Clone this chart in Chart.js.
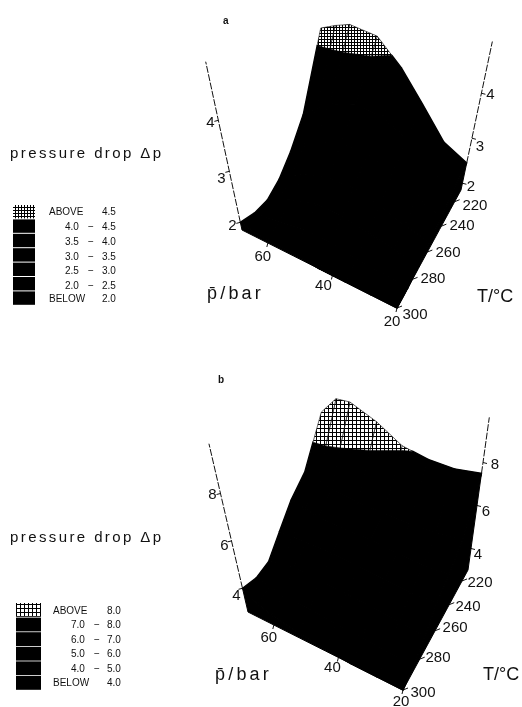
<!DOCTYPE html>
<html><head><meta charset="utf-8">
<style>html,body{margin:0;padding:0;background:#fff}canvas{display:block}</style>
<script src="https://cdn.jsdelivr.net/npm/chart.js@4/dist/chart.umd.min.js"></script>
</head><body><canvas id="c" width="522" height="707"></canvas>
<script>
// ---- data ----
const temperatures = [210,225,240,255,270,285,300];
const pressures    = [68,64,60,52,44,36,28,20];
const surfaceA = [
 [4.98,5.12,5.2,4.95,4.2,3.4,2.71,2.45],
 [2.61,2.9,3.2,3.4,3.3,3.0,2.5,2.3],
 [2.04,2.3,2.6,2.8,2.8,2.6,2.3,2.1],
 [1.78,2.0,2.2,2.4,2.4,2.3,2.1,2.0],
 [1.72,1.85,2.0,2.2,2.2,2.1,2.0,1.9],
 [1.83,1.85,1.9,2.0,2.0,1.95,1.9,1.85],
 [2.0,1.95,1.9,1.9,1.85,1.85,1.85,1.85]];
const surfaceB = [
 [9.71,10.7,10.52,9.4,8.2,7.7,7.47,7.5],
 [6.3,6.0,5.8,5.5,5.3,5.2,5.2,5.3],
 [5.4,5.2,5.0,4.9,4.8,4.7,4.6,4.6],
 [4.45,4.5,4.5,4.5,4.4,4.3,4.2,4.2],
 [3.75,3.9,4.0,4.0,3.9,3.8,3.7,3.6],
 [3.75,3.6,3.5,3.5,3.4,3.3,3.2,3.2],
 [4.0,3.6,3.4,3.2,3.1,3.0,3.0,3.0]];
const tTicks = [300,280,260,240,220];
const pTicks = [60,40,20];
const zTicksA = [2,3,4];
const zTicksB = [4,6,8];
const hatchLevelA = 4.5, hatchLevelB = 8.0;
const legendRowsA = [["ABOVE","","4.5"],["4.0","−","4.5"],["3.5","−","4.0"],["3.0","−","3.5"],["2.5","−","3.0"],["2.0","−","2.5"],["BELOW","","2.0"]];
const legendRowsB = [["ABOVE","","8.0"],["7.0","−","8.0"],["6.0","−","7.0"],["5.0","−","6.0"],["4.0","−","5.0"],["BELOW","","4.0"]];
const titleText = "pressure drop Δp", pLabel = "p\u0304/bar", tLabel = "T/°C";

// ---- projection / layout of each panel ----
const panelA = {
  surface:surfaceA, level:hatchLevelA, z0:1.85, zTop:5.15, zTicks:zTicksA, zRightStart:2.45, zLeftStart:2.0, warp:.12,
  A:[397,308], L:[242,230], R:[461,190], K:[316,122],
  zA:[-1,-48], zL:[-11,-51], zR:[9.5,-45], zK:[1.5,-30],
  tOff:[[18,7],[20.4,0],[20.7,1],[20.6,0],[20.3,4]], pOff:[[-5,14],[-9,10.5],[-5,14]],
  zLeftOff:[[-8,4],[-8,8],[-8,3]], zRightOff:[[8.6,4],[8,9],[9,2]],
  tag:"a", tagPos:[223,24], titleY:158, pLabelPos:[207,299], tLabelPos:[477,302],
  sw:{x:13,w:22,y:205,h:13.4,gap:1}, rowsY:[212,227,242,257,271,286,299], rows:legendRowsA,
  colX:{word:49,low:65,dash:88,hi:102}, hatchPeriod:3
};
const panelB = {
  surface:surfaceB, level:hatchLevelB, z0:3, zTop:10.1, zTicks:zTicksB, zRightStart:7.5, zLeftStart:4.0, warp:.2,
  A:[403,690], L:[248,612], R:[468,570], K:[318,506],
  zA:[-1,-23], zL:[-5.5,-23.7], zR:[3,-21.5], zK:[.5,-14],
  tOff:[[20,3],[18.3,-1],[20,-3],[18.8,2.3],[17.9,2.1]], pOff:[[-5,13],[-6,10.5],[-2,12]],
  zLeftOff:[[-6,8],[-7,5],[-8,1]], zRightOff:[[7,6.5],[9,6.5],[12,2.5]],
  tag:"b", tagPos:[218,383], titleY:542, pLabelPos:[215,680], tLabelPos:[483,680],
  sw:{x:16,w:25,y:603,h:13.8,gap:.8}, rowsY:[611,625,640,654,669,683], rows:legendRowsB,
  colX:{word:53,low:71,dash:94,hi:107}, hatchPeriod:4
};
const lerp=(a,b,t)=>a+(b-a)*t;
const bil=(P,f,v,a,l,r,k,i)=>lerp(lerp(P[a][i],P[l][i],v),lerp(P[r][i],P[k][i],v),f);
function project(P,T,p,z,fOverride){
  const f = fOverride!==undefined?fOverride:(300-T)/90, v=(p-20)/48, d=z-P.z0;
  return { x: bil(P,f,v,'A','L','R','K',0)+d*bil(P,f,v,'zA','zL','zR','zK',0),
           y: bil(P,f,v,'A','L','R','K',1)+d*bil(P,f,v,'zA','zL','zR','zK',1), z };
}
function clip(poly,level,keepAbove){
  const out=[];
  for(let i=0;i<poly.length;i++){
    const a=poly[i], b=poly[(i+1)%poly.length];
    const ia=keepAbove?a.z>=level:a.z<level, ib=keepAbove?b.z>=level:b.z<level;
    if(ia) out.push(a);
    if(ia!==ib){const t=(level-a.z)/(b.z-a.z);out.push({x:lerp(a.x,b.x,t),y:lerp(a.y,b.y,t),z:level});}
  }
  return out;
}
function makePattern(period){
  const c=document.createElement('canvas');c.width=c.height=period;
  const x=c.getContext('2d');x.fillStyle='#000';x.fillRect(0,0,period,period);
  x.fillStyle='#fff';x.fillRect(1,1,period-1,period-1);
  return x.createPattern(c,'repeat');
}
const poly=(pts,fill,w)=>({data:[...pts,pts[0]].map(q=>({x:q.x,y:q.y})),showLine:true,fill:'shape',
  backgroundColor:fill,borderColor:'#000',borderWidth:w,pointRadius:0,tension:0});
const stroke=(pts,w,dash)=>({data:pts.map(q=>({x:q.x,y:q.y})),showLine:true,fill:false,
  borderColor:'#111',borderWidth:w,borderDash:dash||[],pointRadius:0,tension:0});
function buildDatasets(P){
  const ds=[], hatch=makePattern(P.hatchPeriod), S=P.surface, nT=temperatures.length, nP=pressures.length;
  const last=nT-1, end=nP-1;
  // axes
  ds.push(stroke([project(P,300,68,P.zLeftStart),project(P,300,68,P.zTop)],1,[7,1.5]));
  ds.push(stroke([project(P,210,20,P.zRightStart),project(P,210,20,P.zTop)],1,[7,1.5]));
  // skirts: front and side
  const front=pressures.map((p,j)=>project(P,300,p,S[last][j]));
  const frontB=pressures.map(p=>project(P,300,p,P.z0)).reverse();
  ds.push(poly([...front,...frontB],'#000',1));
  const side=temperatures.map((T,i)=>project(P,T,20,S[i][end]));
  const sideB=temperatures.map(T=>project(P,T,20,P.z0)).reverse();
  ds.push(poly([...side,...sideB],'#000',1));
  // surface cells: hatched part first, so black cells sit cleanly over its lower edge
  const hiCells=[], loCells=[];
  for(let i=0;i<nT-1;i++)for(let j=0;j<nP-1;j++){
    const q=[project(P,temperatures[i],pressures[j],S[i][j]),project(P,temperatures[i],pressures[j+1],S[i][j+1]),
             project(P,temperatures[i+1],pressures[j+1],S[i+1][j+1]),project(P,temperatures[i+1],pressures[j],S[i+1][j])];
    const lo=clip(q,P.level,false), hi=clip(q,P.level,true);
    if(lo.length>2) loCells.push(poly(lo,'#000',1.4));
    if(hi.length>2) hiCells.push(poly(hi,hatch,.6));
  }
  ds.push(...hiCells,...loCells);
  // tick marks
  tTicks.forEach(T=>{const x=(300-T)/90,q=project(P,T,20,P.z0,x+P.warp*x*(1-x));ds.push(stroke([q,{x:q.x+5,y:q.y-2}],1));});
  pTicks.forEach(p=>{const q=project(P,300,p,P.z0);ds.push(stroke([q,{x:q.x-1,y:q.y+4}],1));});
  P.zTicks.forEach(z=>{const a=project(P,300,68,z),b=project(P,210,20,z);
    ds.push(stroke([a,{x:a.x-4,y:a.y+1}],1));ds.push(stroke([b,{x:b.x+4,y:b.y+1}],1));});
  return ds;
}
function drawPanelText(chart,P){
  const g=chart.ctx, X=v=>chart.scales.x.getPixelForValue(v), Y=v=>chart.scales.y.getPixelForValue(v);
  g.save(); g.fillStyle='#111'; g.textBaseline='alphabetic';
  const tick=(s,q,o)=>{g.textAlign='center';g.textBaseline='middle';g.fillText(s,X(q.x+o[0]),Y(q.y+o[1]));};
  g.font='15px "Liberation Sans"';
  tTicks.forEach((T,i)=>{const x=(300-T)/90;tick(String(T),project(P,T,20,P.z0,x+P.warp*x*(1-x)),P.tOff[i]);});
  pTicks.forEach((p,i)=>tick(String(p),project(P,300,p,P.z0),P.pOff[i]));
  P.zTicks.forEach((z,i)=>{tick(String(z),project(P,300,68,z),P.zLeftOff[i]);tick(String(z),project(P,210,20,z),P.zRightOff[i]);});
  g.textBaseline='alphabetic';g.textAlign='left';
  g.font='bold 10px "Liberation Sans"';g.fillText(P.tag,P.tagPos[0],P.tagPos[1]);
  g.font='15px "Liberation Sans"';g.letterSpacing='2.4px';g.fillText(titleText,10,P.titleY);
  g.font='18px "Liberation Sans"';g.letterSpacing='3.2px';g.fillText(pLabel,P.pLabelPos[0],P.pLabelPos[1]);
  g.letterSpacing='0px';g.fillText(tLabel,P.tLabelPos[0],P.tLabelPos[1]);
  // legend
  g.font='10px "Liberation Sans"';g.textBaseline='middle';
  P.rows.forEach((r,i)=>{
    const y=P.rowsY[i], sy=P.sw.y+i*(P.sw.h+P.sw.gap);
    g.fillStyle=i===0?makePattern(P.hatchPeriod):'#000';
    g.fillRect(P.sw.x,sy,P.sw.w,P.sw.h);
    g.fillStyle='#111';
    if(r[1]){g.fillText(r[0],P.colX.low,y);g.fillText(r[1],P.colX.dash,y);}
    else g.fillText(r[0],P.colX.word,y);
    g.fillText(r[2],P.colX.hi,y);
  });
  g.restore();
}
new Chart(document.getElementById('c').getContext('2d'),{
  type:'scatter',
  data:{datasets:[...buildDatasets(panelA),...buildDatasets(panelB)]},
  options:{responsive:false,animation:false,
    layout:{padding:0},
    plugins:{legend:{display:false},tooltip:{enabled:false}},
    scales:{x:{type:'linear',min:0,max:522,display:false},y:{type:'linear',min:0,max:707,reverse:true,display:false}}},
  plugins:[{id:'panelText',afterDatasetsDraw(chart){drawPanelText(chart,panelA);drawPanelText(chart,panelB);}}]
});
</script></body></html>
